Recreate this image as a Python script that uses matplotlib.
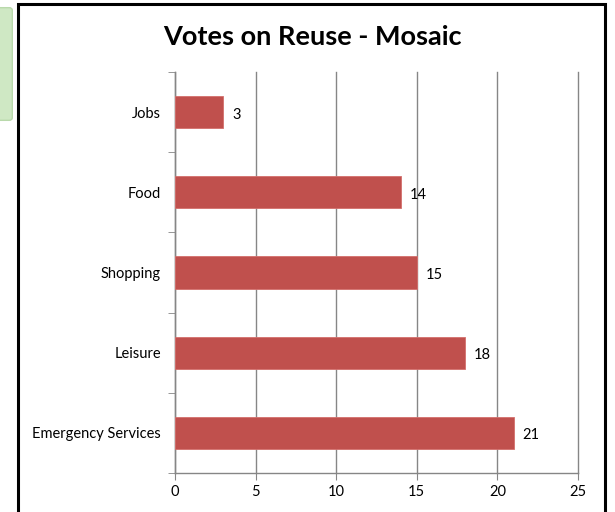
import matplotlib.pyplot as plt
from matplotlib.patches import Rectangle, FancyBboxPatch

# data
categories = ['Jobs', 'Food', 'Shopping', 'Leisure', 'Emergency Services']
votes = [3, 14, 15, 18, 21]
title = 'Votes on Reuse - Mosaic'

plt.rcParams['font.family'] = ['Lato', 'DejaVu Sans']

fig = plt.figure(figsize=(6.15, 5.12), dpi=100)
fig.patch.set_facecolor('white')

# bits of the background map showing behind the chart box
fig.patches.append(FancyBboxPatch((-0.02, 0.77), 0.035, 0.21, boxstyle='round,pad=0.005',
                                  transform=fig.transFigure, facecolor='#cfe8c4',
                                  edgecolor='#b9d9ab', lw=1, zorder=-2))
# chart box
fig.patches.append(Rectangle((18 / 615, -0.02), 587 / 615, 1.013, transform=fig.transFigure,
                             facecolor='white', edgecolor='black', lw=2.2, zorder=-1))

ax = fig.add_axes([175 / 615, 1 - 473 / 512, 403 / 615, 401 / 512])
ax.set_zorder(2)
ax.set_facecolor('none')
ypos = list(range(len(categories)))
bars = ax.barh(ypos, votes, height=0.4, color='#c0504d', edgecolor='#d46f6c', lw=0.6, zorder=3)
ax.set_ylim(len(categories) - 0.5, -0.5)
ax.set_xlim(0, 25)
ax.set_xticks(range(0, 26, 5))
ax.set_yticks(ypos)
ax.set_yticklabels(categories)
ax.set_yticks([i - 0.5 for i in range(len(categories) + 1)], minor=True)
ax.tick_params(axis='y', which='major', length=0, pad=10, labelsize=10.5)
ax.tick_params(axis='y', which='minor', length=5, color='#868686', direction='out')
ax.tick_params(axis='x', length=5, color='#868686', labelsize=10.5, pad=4)
ax.grid(axis='x', color='#868686', lw=1, zorder=0)
for gl in ax.get_xgridlines():
    gl.set_clip_on(False)
for s in ['top', 'right']:
    ax.spines[s].set_visible(False)
for s in ['left', 'bottom']:
    ax.spines[s].set_color('#868686')
    ax.spines[s].set_linewidth(1)

for y, v in zip(ypos, votes):
    ax.text(v + 0.55, y + 0.03, str(v), va='center', ha='left', fontsize=10.5, color='black')

fig.text(312 / 615, 1 - 37 / 512, title, ha='center', va='center', fontsize=19.5,
         fontweight='bold', color='black', zorder=3)

fig.savefig('out.png', dpi=100)
